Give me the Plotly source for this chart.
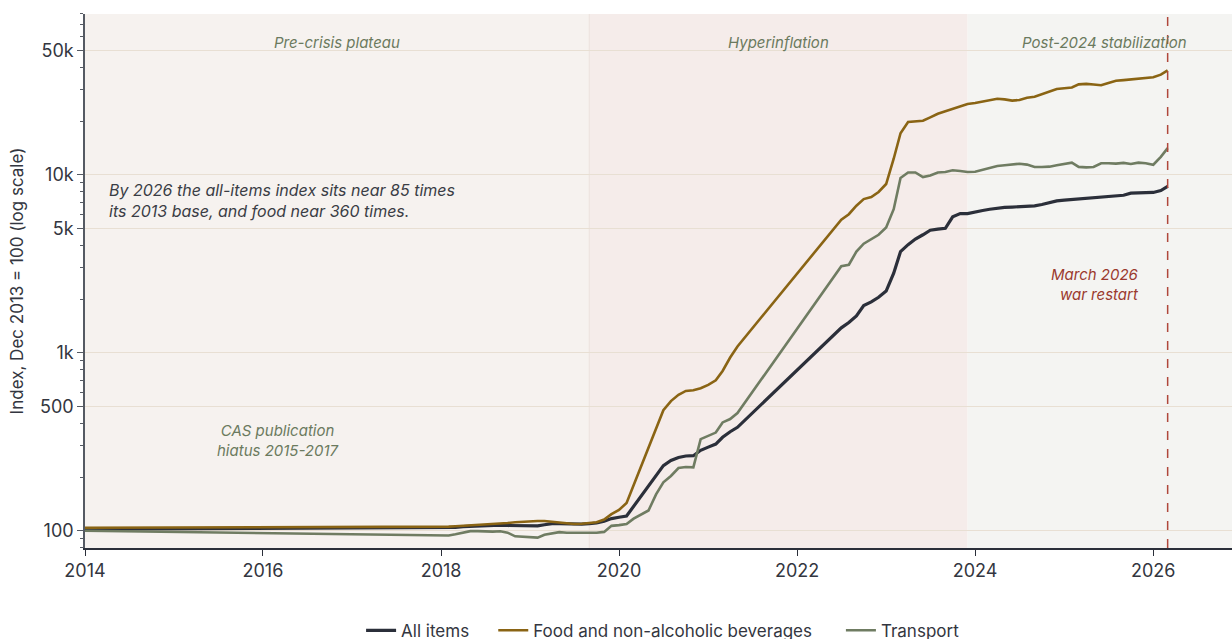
import plotly.graph_objects as go
import datetime as _dt

# ---------------- data ----------------
dates_2014 = ["2014-01-01", "2014-06-01", "2014-12-01"]
all_2014 = [102, 102.2, 102.4]
food_2014 = [104, 104.1, 104.2]
trans_2014 = [100, 99.3, 98.6]

dates_a = [
    "2018-01-01", "2018-02-01", "2018-03-01", "2018-04-01", "2018-05-01", "2018-06-01",
    "2018-07-01", "2018-08-01", "2018-09-01", "2018-10-01", "2018-11-01", "2018-12-01",
    "2019-01-01", "2019-02-01", "2019-03-01", "2019-04-01", "2019-05-01", "2019-06-01",
    "2019-07-01", "2019-08-01", "2019-09-01", "2019-10-01", "2019-11-01", "2019-12-01",
    "2020-01-01", "2020-02-01",
]
all_a = [103.5, 104, 104.5, 105.5, 106, 106.5, 107, 107, 107.5, 107, 107, 106.5,
         106.5, 106.5, 108, 109.5, 109.5, 109, 109, 109, 109.5, 110.5, 113, 117,
         119, 121]
food_a = [105, 105.5, 106, 106.5, 107, 107.5, 108, 109, 110, 110.5, 111.5, 112.5,
          113, 113.5, 113.5, 112.5, 111, 109.5, 109, 109.5, 110, 111.5, 115.5, 124,
          131, 143]
trans_a = [93.5, 94, 95.5, 97.5, 99.5, 99.5, 99, 98.8, 99.3, 97.5, 93, 92.5,
           92, 91.5, 95, 97, 98.2, 97.5, 97.5, 97, 96.8, 97.5, 98.5, 106.5,
           107.5, 109]

dates_b = ["2020-03-01", "2020-04-01", "2020-05-01", "2020-06-01"]
trans_b = [117, 124, 130, 160]

dates_c = [
    "2020-07-01", "2020-08-01", "2020-09-01", "2020-10-01", "2020-11-01", "2020-12-01",
    "2021-01-01", "2021-02-01", "2021-03-01", "2021-04-01", "2021-05-01",
]
all_c = [232, 248, 258, 263, 264, 283, 295, 307, 335, 360, 381]
food_c = [475, 535, 580, 610, 615, 632, 660, 700, 790, 940, 1085]
trans_c = [187, 203, 225, 228, 227, 327, 340, 356, 406, 424, 458]

dates_d = [
    "2022-07-01", "2022-08-01", "2022-09-01", "2022-10-01", "2022-11-01", "2022-12-01",
    "2023-01-01", "2023-02-01", "2023-03-01", "2023-04-01", "2023-05-01", "2023-06-01",
    "2023-07-01", "2023-08-01", "2023-09-01", "2023-10-01", "2023-11-01", "2023-12-01",
    "2024-01-01", "2024-02-01", "2024-03-01", "2024-04-01", "2024-05-01", "2024-06-01",
    "2024-07-01", "2024-08-01", "2024-09-01", "2024-10-01", "2024-11-01", "2024-12-01",
    "2025-01-01", "2025-02-01", "2025-03-01", "2025-04-01", "2025-05-01", "2025-06-01",
    "2025-07-01", "2025-08-01", "2025-09-01", "2025-10-01", "2025-11-01", "2025-12-01",
    "2026-01-01", "2026-02-01", "2026-03-01",
]
all_d = [1380, 1480, 1610, 1840, 1930, 2050, 2220, 2800, 3700, 4050, 4350, 4600,
         4880, 4950, 5000, 5800, 6050, 6050, 6200, 6300, 6400, 6500, 6550, 6580,
         6600, 6650, 6690, 6800, 6950, 7130, 7200, 7260, 7310, 7380, 7450, 7500,
         7560, 7620, 7670, 7880, 7920, 7940, 7950, 8150, 8590]
food_d = [5590, 6000, 6700, 7300, 7500, 8000, 8870, 12300, 17100, 19800, 20000, 20100,
          21000, 22000, 22700, 23500, 24200, 25000, 25300, 25800, 26300, 26700, 26500, 26100,
          26300, 27100, 27400, 28400, 29500, 30300, 30600, 30900, 32200, 32400, 32100, 31800,
          32800, 33700, 34000, 34300, 34500, 34800, 35300, 36500, 38600]
trans_d = [3060, 3120, 3700, 4100, 4350, 4600, 5050, 6400, 9600, 10300, 10300, 9700,
           9900, 10300, 10350, 10600, 10500, 10350, 10400, 10700, 10950, 11200, 11300, 11450,
           11530, 11400, 11050, 11050, 11100, 11300, 11500, 11680, 11070, 11000, 11050, 11600,
           11600, 11550, 11650, 11500, 11700, 11600, 11380, 12600, 14100]

series_names = ["All items", "Food and non-alcoholic beverages", "Transport"]
series_colors = ["#2b2f3a", "#8a6414", "#6f7c62"]

all_x = dates_2014 + dates_a + dates_c + dates_d
all_y = all_2014 + all_a + all_c + all_d
food_x = dates_2014 + dates_a + dates_c + dates_d
food_y = food_2014 + food_a + food_c + food_d
trans_x = dates_2014 + dates_a + dates_b + dates_c + dates_d
trans_y = trans_2014 + trans_a + trans_b + trans_c + trans_d

periods = [
    ("2014-01-01", "2019-09-01", "#f6f2ef", "Pre-crisis plateau"),
    ("2019-09-01", "2023-12-01", "#f5ecea", "Hyperinflation"),
    ("2023-12-01", "2027-01-01", "#f4f4f2", "Post-2024 stabilization"),
]
war_date = "2026-03-01"

y_tickvals = [100, 500, 1000, 5000, 10000, 50000]
y_ticktext = ["100", "500", "1k", "5k", "10k", "50k"]
y_minor = [80, 90, 200, 300, 400, 600, 700, 800, 900, 2000, 3000, 4000, 6000, 7000,
           8000, 9000, 20000, 30000, 40000, 60000, 70000, 80000]
x_tickvals = ["2014-01-01", "2016-01-01", "2018-01-01", "2020-01-01",
              "2022-01-01", "2024-01-01", "2026-01-01"]
x_ticktext = ["2014", "2016", "2018", "2020", "2022", "2024", "2026"]

FONT = "Inter"
NB = "\u00a0"

fig = go.Figure()

shapes = []
annotations = []
for start, end, color, label in periods:
    s = _dt.datetime.fromisoformat(start)
    e = _dt.datetime.fromisoformat(end)
    mid = (s + (e - s) / 2).strftime("%Y-%m-%d")
    shapes.append(dict(type="rect", xref="x", yref="paper", x0=start, x1=end, y0=0, y1=1,
                       fillcolor=color, line=dict(width=0), layer="below"))
    annotations.append(dict(x=mid, y=1, xref="x", yref="paper", text=label,
                            showarrow=False, yanchor="middle", yshift=-28,
                            font=dict(family=FONT, size=15, color="#6b7a5e", style="italic")))

# faint boundary line
shapes.append(dict(type="line", xref="x", yref="paper", x0=periods[1][0], x1=periods[1][0],
                   y0=0, y1=1, line=dict(color="#ebe2dc", width=1), layer="below"))
# war restart dashed line
shapes.append(dict(type="line", xref="x", yref="paper", x0=war_date, x1=war_date,
                   y0=0, y1=1, line=dict(color="#b0473b", width=1.5, dash="dash")))

legend_pad = [NB * 4, NB * 5, ""]
for xs, ys, name, pad, color, width in [
    (all_x, all_y, series_names[0], legend_pad[0], series_colors[0], 3.2),
    (food_x, food_y, series_names[1], legend_pad[1], series_colors[1], 2.6),
    (trans_x, trans_y, series_names[2], legend_pad[2], series_colors[2], 2.6),
]:
    fig.add_trace(go.Scatter(x=xs, y=ys, mode="lines", name=name + pad,
                             line=dict(color=color, width=width)))

annotations.append(dict(x="2014-04-01", y=3.854, xref="x", yref="y",
                        text="By 2026 the all-items index sits near 85 times<br>its 2013 base, and food near 360 times.",
                        showarrow=False, xanchor="left", yanchor="middle", align="left",
                        font=dict(family=FONT, size=16, color="#3a3d45", style="italic")))
annotations.append(dict(x="2016-03-01", y=2.508, xref="x", yref="y",
                        text="CAS publication<br>hiatus 2015-2017",
                        showarrow=False, xanchor="center", yanchor="middle", align="center",
                        font=dict(family=FONT, size=15, color="#6b7a5e", style="italic")))
annotations.append(dict(x=war_date, y=3.385, xref="x", yref="y",
                        text="March 2026<br>war restart",
                        showarrow=False, xanchor="right", yanchor="middle", align="right", xshift=-27,
                        font=dict(family=FONT, size=15, color="#9b3a2e", style="italic")))

fig.update_layout(
    width=1232, height=639,
    margin=dict(l=85, r=0, t=14, b=91, autoexpand=False),
    paper_bgcolor="white", plot_bgcolor="white",
    font=dict(family=FONT, size=16, color="#333640"),
    shapes=shapes, annotations=annotations,
    showlegend=True,
    legend=dict(orientation="h", x=0.504, xanchor="center", y=-0.155, yanchor="middle",
                font=dict(family=FONT, size=17, color="#333640"),
                itemwidth=30, tracegroupgap=0),
)
fig.update_xaxes(
    type="date", range=["2014-01-01", "2026-11-20"],
    tickmode="array", tickvals=x_tickvals, ticktext=x_ticktext,
    showgrid=False, zeroline=False,
    showline=True, linecolor="#2b2f3a", linewidth=1.5,
    ticks="outside", ticklen=6, tickcolor="#2b2f3a",
    tickfont=dict(family=FONT, size=18, color="#333640"),
)
fig.update_yaxes(
    type="log", range=[1.903, 4.903],
    tickmode="array", tickvals=y_tickvals, ticktext=y_ticktext,
    showgrid=True, gridcolor="#e8dfd3", gridwidth=1, zeroline=False,
    showline=True, linecolor="#555a63", linewidth=1.5,
    ticks="outside", ticklen=6, tickcolor="#555a63",
    minor=dict(tickmode="array", tickvals=y_minor, ticks="outside", ticklen=3,
               tickcolor="#555a63", showgrid=False),
    tickfont=dict(family=FONT, size=18, color="#333640"),
    title=dict(text="Index, Dec 2013 = 100 (log scale)",
               font=dict(family=FONT, size=17, color="#333640"), standoff=12),
)

fig.write_html("out.html")
